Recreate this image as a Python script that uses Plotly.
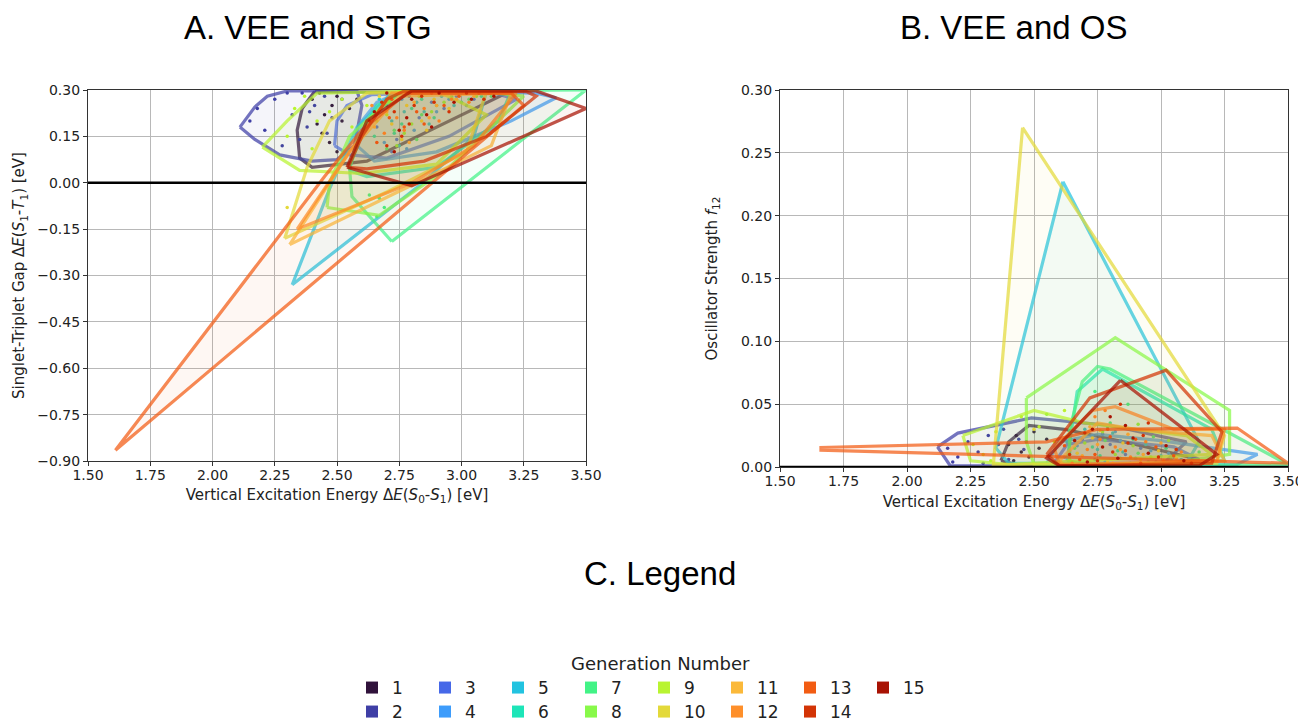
import plotly.graph_objects as go

# figure size (page body adds an 8px margin inside the 1306x724 window)
W, H = 1298, 716
OFF = 8


def fx(p):
    return (p - OFF) / W


def fy(p):
    return 1 - (p - OFF) / H


generations = list(range(1, 16))
gen_colors = ["#30123b", "#3f3fa6", "#4668e8", "#3d9cfb", "#22c3e0", "#1de5b8", "#42f386",
              "#88f94a", "#b9f431", "#e3d93a", "#fbb93a", "#fe8f2a", "#f25c13", "#d33406", "#a81203"]

# ---------------- Panel A: VEE vs STG (convex hulls per generation) ----------------
hullA_x = {
    1: [2.41, 2.36, 2.34, 2.35, 2.40, 2.62, 3.18, 2.41],
    2: [2.11, 2.17, 2.22, 2.30, 2.58, 2.60, 2.57, 2.50, 2.40, 2.27, 2.17, 2.11],
    3: [2.49, 2.50, 2.54, 2.64, 3.10, 3.22, 2.95, 2.70, 2.55, 2.49],
    4: [2.58, 2.60, 2.66, 2.76, 3.30, 3.38, 3.20, 2.90, 2.65, 2.58],
    5: [2.32, 2.47, 2.58, 2.72, 3.10, 3.05, 2.83, 2.32],
    6: [2.55, 2.58, 2.66, 2.78, 3.20, 3.15, 2.90, 2.62, 2.55],
    7: [2.72, 2.56, 2.55, 2.62, 2.76, 3.50, 2.72],
    8: [2.46, 2.67, 2.95, 3.25, 3.05, 2.75, 2.55, 2.47, 2.46],
    9: [2.20, 2.30, 2.42, 2.90, 3.10, 2.90, 2.60, 2.35, 2.20],
    10: [2.29, 2.38, 2.47, 2.62, 3.10, 3.02, 2.70, 2.29],
    11: [2.31, 2.55, 2.75, 3.20, 3.12, 2.82, 2.31],
    12: [2.34, 2.55, 2.72, 3.22, 3.05, 2.80, 2.34],
    13: [1.61, 2.45, 2.60, 2.78, 3.20, 3.25, 1.61],
    14: [2.545, 2.60, 2.70, 2.77, 3.26, 3.30, 3.10, 2.85, 2.62, 2.545],
    15: [2.54, 2.80, 3.50, 3.30, 2.80, 2.62, 2.54],
}
hullA_y = {
    1: [0.295, 0.24, 0.17, 0.08, 0.05, 0.07, 0.29, 0.295],
    2: [0.18, 0.245, 0.28, 0.297, 0.297, 0.25, 0.12, 0.075, 0.07, 0.09, 0.14, 0.18],
    3: [0.12, 0.20, 0.25, 0.285, 0.297, 0.27, 0.15, 0.08, 0.09, 0.12],
    4: [0.12, 0.20, 0.26, 0.295, 0.29, 0.275, 0.20, 0.10, 0.07, 0.12],
    5: [-0.33, -0.02, 0.18, 0.29, 0.295, 0.15, -0.01, -0.33],
    6: [0.04, 0.14, 0.25, 0.297, 0.297, 0.20, 0.05, 0.02, 0.04],
    7: [-0.19, -0.045, 0.05, 0.20, 0.297, 0.30, -0.19],
    8: [-0.08, -0.105, 0.05, 0.28, 0.297, 0.297, 0.15, 0.0, -0.08],
    9: [0.115, 0.20, 0.29, 0.297, 0.22, 0.06, 0.03, 0.04, 0.115],
    10: [-0.18, 0.05, 0.20, 0.29, 0.295, 0.10, -0.03, -0.18],
    11: [-0.20, 0.10, 0.28, 0.29, 0.12, 0.0, -0.20],
    12: [-0.15, 0.10, 0.29, 0.29, 0.12, 0.0, -0.15],
    13: [-0.865, 0.02, 0.17, 0.29, 0.29, 0.25, -0.865],
    14: [0.05, 0.15, 0.27, 0.297, 0.295, 0.28, 0.15, 0.07, 0.045, 0.05],
    15: [0.05, -0.01, 0.24, 0.297, 0.297, 0.20, 0.05],
}
ptsA_x = {
    1: [2.40, 2.43, 2.45, 2.48, 2.50, 2.52, 2.44, 2.47, 2.55, 2.42, 2.58, 2.50],
    2: [2.15, 2.18, 2.21, 2.25, 2.28, 2.32, 2.36, 2.38, 2.41, 2.45, 2.48, 2.52, 2.35, 2.30, 2.46, 2.39],
    3: [2.66, 2.70, 2.74, 2.79, 2.83, 2.88, 2.93, 2.98, 3.05, 2.72],
    4: [2.64, 2.69, 2.76, 2.81, 2.86, 2.90, 2.95, 3.02, 3.10, 2.78],
    5: [2.67, 2.72, 2.77, 2.82, 2.87, 2.92, 2.97, 3.04, 2.75, 2.85],
    6: [2.65, 2.71, 2.76, 2.80, 2.84, 2.89, 2.94, 3.00, 3.08, 2.73],
    7: [2.68, 2.73, 2.78, 2.84, 2.90, 2.96, 3.03, 2.82, 2.70, 3.12, 2.63, 2.67, 2.69, 2.66],
    8: [2.66, 2.71, 2.77, 2.83, 2.88, 2.93, 2.99, 3.06, 2.80, 2.74],
    9: [2.30, 2.33, 2.37, 2.42, 2.47, 2.52, 2.56, 2.40, 2.62, 2.70],
    10: [2.67, 2.72, 2.78, 2.84, 2.89, 2.95, 3.01, 2.76, 2.86, 2.30],
    11: [2.65, 2.70, 2.75, 2.81, 2.87, 2.92, 2.98, 3.05, 2.79, 2.90],
    12: [2.64, 2.69, 2.74, 2.80, 2.85, 2.91, 2.96, 3.03, 3.11, 2.77],
    13: [2.66, 2.72, 2.77, 2.82, 2.88, 2.93, 2.99, 3.07, 2.71, 2.85],
    14: [2.63, 2.68, 2.73, 2.79, 2.84, 2.89, 2.95, 3.02, 3.09, 2.76, 2.81, 2.70],
    15: [2.65, 2.70, 2.75, 2.80, 2.86, 2.91, 2.97, 3.04, 3.13, 2.78, 2.73, 2.88],
}
ptsA_y = {
    1: [0.27, 0.29, 0.22, 0.25, 0.28, 0.20, 0.16, 0.13, 0.24, 0.19, 0.27, 0.10],
    2: [0.20, 0.24, 0.17, 0.27, 0.12, 0.22, 0.29, 0.18, 0.25, 0.28, 0.21, 0.27, 0.14, 0.29, 0.16, 0.23],
    3: [0.18, 0.25, 0.14, 0.28, 0.21, 0.26, 0.24, 0.28, 0.27, 0.10],
    4: [0.22, 0.13, 0.27, 0.17, 0.29, 0.23, 0.27, 0.25, 0.29, 0.11],
    5: [0.27, 0.20, 0.23, 0.26, 0.19, 0.28, 0.25, 0.29, 0.12, 0.23],
    6: [0.15, 0.28, 0.19, 0.24, 0.27, 0.21, 0.29, 0.26, 0.28, 0.16],
    7: [0.24, 0.17, 0.29, 0.22, 0.25, 0.28, 0.27, 0.14, 0.11, 0.28, -0.04, -0.05, -0.08, -0.11],
    8: [0.20, 0.26, 0.16, 0.28, 0.23, 0.26, 0.29, 0.28, 0.19, 0.12],
    9: [0.15, 0.24, 0.28, 0.20, 0.23, 0.27, 0.18, 0.11, 0.25, 0.22],
    10: [0.28, 0.19, 0.25, 0.20, 0.27, 0.24, 0.29, 0.14, 0.17, -0.08],
    11: [0.18, 0.23, 0.29, 0.26, 0.21, 0.29, 0.27, 0.28, 0.13, 0.25],
    12: [0.25, 0.16, 0.21, 0.29, 0.24, 0.20, 0.27, 0.26, 0.29, 0.17],
    13: [0.13, 0.27, 0.18, 0.23, 0.29, 0.25, 0.28, 0.29, 0.21, 0.19],
    14: [0.20, 0.26, 0.23, 0.19, 0.28, 0.26, 0.23, 0.29, 0.27, 0.15, 0.25, 0.12],
    15: [0.23, 0.29, 0.17, 0.27, 0.22, 0.29, 0.26, 0.27, 0.28, 0.21, 0.10, 0.18],
}

# ---------------- Panel B: VEE vs OS ----------------
hullB_x = {
    1: [2.37, 2.40, 2.48, 2.62, 2.90, 3.15, 3.00, 2.45, 2.37],
    2: [2.12, 2.20, 2.49, 2.80, 3.10, 3.00, 2.17, 2.12],
    3: [2.58, 2.63, 2.75, 3.05, 3.15, 3.05, 2.60, 2.58],
    4: [2.55, 2.60, 2.75, 3.00, 3.38, 3.30, 2.60, 2.55],
    5: [2.614, 3.15, 3.10, 2.40, 2.35, 2.614],
    6: [2.63, 2.67, 2.77, 3.20, 3.25, 2.70, 2.63],
    7: [2.64, 2.64, 2.69, 2.75, 2.80, 3.50, 2.70, 2.64],
    8: [2.47, 2.82, 3.27, 3.27, 3.00, 2.50, 2.47, 2.47],
    9: [2.22, 2.50, 2.70, 3.10, 3.20, 2.40, 2.25, 2.22],
    10: [2.455, 3.25, 3.22, 2.34, 2.455],
    11: [2.60, 2.75, 2.90, 3.20, 3.25, 2.62, 2.60],
    12: [2.58, 2.73, 2.82, 3.05, 3.25, 3.22, 2.60, 2.58],
    13: [1.655, 2.55, 2.75, 3.30, 3.50, 1.655],
    14: [2.55, 2.72, 3.02, 3.24, 3.20, 2.60, 2.55],
    15: [2.84, 3.22, 3.15, 2.60, 2.55, 2.84],
}
hullB_y = {
    1: [0.005, 0.02, 0.033, 0.03, 0.018, 0.006, 0.001, 0.001, 0.005],
    2: [0.016, 0.027, 0.039, 0.033, 0.02, 0.001, 0.001, 0.016],
    3: [0.003, 0.018, 0.022, 0.016, 0.006, 0.001, 0.001, 0.003],
    4: [0.003, 0.02, 0.026, 0.021, 0.01, 0.002, 0.001, 0.003],
    5: [0.227, 0.02, 0.003, 0.003, 0.015, 0.227],
    6: [0.005, 0.06, 0.078, 0.03, 0.005, 0.001, 0.005],
    7: [0.005, 0.03, 0.068, 0.08, 0.078, 0.002, 0.001, 0.005],
    8: [0.055, 0.103, 0.045, 0.01, 0.002, 0.002, 0.02, 0.055],
    9: [0.025, 0.045, 0.035, 0.025, 0.01, 0.002, 0.005, 0.025],
    10: [0.270, 0.025, 0.003, 0.002, 0.270],
    11: [0.005, 0.035, 0.03, 0.025, 0.005, 0.001, 0.005],
    12: [0.015, 0.045, 0.048, 0.03, 0.03, 0.005, 0.002, 0.015],
    13: [0.0155, 0.02, 0.03, 0.031, 0.003, 0.0135],
    14: [0.01, 0.055, 0.077, 0.028, 0.003, 0.001, 0.01],
    15: [0.069, 0.01, 0.001, 0.001, 0.007, 0.069],
}
ptsB_x = {
    1: [2.38, 2.40, 2.43, 2.45, 2.47, 2.50, 2.42, 2.52, 2.55, 2.48],
    2: [2.16, 2.20, 2.24, 2.28, 2.32, 2.36, 2.40, 2.44, 2.18, 2.30, 2.46, 2.38],
    3: [2.64, 2.69, 2.74, 2.80, 2.86, 2.92, 2.98, 3.05, 2.77, 2.71],
    4: [2.62, 2.67, 2.73, 2.78, 2.84, 2.90, 2.96, 3.03, 3.10, 2.82],
    5: [2.63, 2.68, 2.75, 2.81, 2.88, 2.94, 3.00, 2.70, 2.85, 3.08],
    6: [2.65, 2.70, 2.76, 2.83, 2.89, 2.95, 3.02, 2.73, 2.79, 3.12],
    7: [2.66, 2.72, 2.78, 2.84, 2.91, 2.97, 3.04, 2.80, 2.87, 3.15, 2.74],
    8: [2.64, 2.70, 2.77, 2.82, 2.89, 2.96, 3.03, 2.55, 2.66, 2.91, 3.10],
    9: [2.26, 2.30, 2.35, 2.45, 2.52, 2.58, 2.33, 2.62],
    10: [2.67, 2.73, 2.79, 2.85, 2.92, 2.99, 3.06, 2.76, 2.50],
    11: [2.63, 2.69, 2.75, 2.81, 2.87, 2.93, 3.00, 3.07, 2.72, 2.84],
    12: [2.65, 2.71, 2.76, 2.82, 2.88, 2.94, 3.01, 3.08, 2.74, 2.78],
    13: [2.62, 2.68, 2.74, 2.80, 2.86, 2.92, 2.98, 3.05, 2.79, 2.90],
    14: [2.64, 2.70, 2.75, 2.81, 2.87, 2.93, 2.99, 3.06, 3.12, 2.84, 2.95],
    15: [2.66, 2.71, 2.77, 2.83, 2.89, 2.95, 3.02, 3.09, 2.73, 2.86, 2.80],
}
ptsB_y = {
    1: [0.010, 0.018, 0.025, 0.012, 0.020, 0.028, 0.005, 0.015, 0.022, 0.008],
    2: [0.015, 0.008, 0.020, 0.012, 0.025, 0.018, 0.006, 0.022, 0.004, 0.003, 0.014, 0.030],
    3: [0.012, 0.022, 0.006, 0.018, 0.010, 0.015, 0.004, 0.008, 0.026, 0.003],
    4: [0.008, 0.017, 0.025, 0.004, 0.021, 0.007, 0.013, 0.011, 0.005, 0.028],
    5: [0.020, 0.005, 0.014, 0.027, 0.003, 0.018, 0.009, 0.030, 0.012, 0.006],
    6: [0.004, 0.026, 0.009, 0.013, 0.022, 0.004, 0.015, 0.016, 0.032, 0.004],
    7: [0.015, 0.003, 0.021, 0.007, 0.011, 0.024, 0.006, 0.035, 0.050, 0.012, 0.060],
    8: [0.006, 0.019, 0.028, 0.010, 0.017, 0.008, 0.021, 0.042, 0.038, 0.034, 0.028],
    9: [0.018, 0.010, 0.028, 0.040, 0.032, 0.020, 0.005, 0.045],
    10: [0.011, 0.023, 0.004, 0.019, 0.006, 0.013, 0.007, 0.029, 0.030],
    11: [0.024, 0.009, 0.018, 0.003, 0.026, 0.010, 0.019, 0.004, 0.032, 0.014],
    12: [0.003, 0.014, 0.022, 0.016, 0.008, 0.020, 0.005, 0.012, 0.040, 0.045],
    13: [0.017, 0.006, 0.010, 0.024, 0.013, 0.003, 0.016, 0.009, 0.030, 0.022],
    14: [0.010, 0.027, 0.005, 0.012, 0.019, 0.025, 0.008, 0.014, 0.003, 0.050, 0.035],
    15: [0.021, 0.004, 0.016, 0.007, 0.023, 0.011, 0.017, 0.005, 0.030, 0.033, 0.040],
}

xticksA = [1.50, 1.75, 2.00, 2.25, 2.50, 2.75, 3.00, 3.25, 3.50]
yticksA = [-0.90, -0.75, -0.60, -0.45, -0.30, -0.15, 0.00, 0.15, 0.30]
yticksB = [0.00, 0.05, 0.10, 0.15, 0.20, 0.25, 0.30]


def rgba(hexc, a):
    h = hexc.lstrip("#")
    r, g, b = int(h[0:2], 16), int(h[2:4], 16), int(h[4:6], 16)
    return f"rgba({r},{g},{b},{a})"


fig = go.Figure()

for g, c in zip(generations, gen_colors):
    for (hx, hy, px, py, xa, ya) in [
        (hullA_x, hullA_y, ptsA_x, ptsA_y, "x", "y"),
        (hullB_x, hullB_y, ptsB_x, ptsB_y, "x2", "y2"),
    ]:
        fig.add_trace(go.Scatter(
            x=px[g], y=py[g], mode="markers", xaxis=xa, yaxis=ya,
            marker=dict(size=3.5, color=c), showlegend=False, hoverinfo="skip"))
        fig.add_trace(go.Scatter(
            x=hx[g], y=hy[g], mode="lines", fill="toself", xaxis=xa, yaxis=ya,
            line=dict(color=rgba(c, 0.72), width=3.2),
            fillcolor=rgba(c, 0.05), showlegend=False, hoverinfo="skip"))

# legend entries (odd generations first row, even second row)
for g, c in zip(generations, gen_colors):
    fig.add_trace(go.Scatter(
        x=[None], y=[None], mode="markers", name=str(g),
        marker=dict(symbol="square", size=12, color=c),
        legend="legend" if g % 2 == 1 else "legend2", showlegend=True))

axis_common = dict(
    showgrid=True, gridcolor="#b8b8b8", gridwidth=1,
    showline=True, mirror=True, linecolor="#333333", linewidth=1.2,
    ticks="outside", ticklen=4, tickcolor="#333333",
    tickfont=dict(family="DejaVu Sans", size=14, color="#222222"),
    zeroline=False, tickformat=".2f", automargin=False,
)
title_font = dict(family="DejaVu Sans", size=15, color="#222222")

xlabel = "Vertical Excitation Energy Δ<i>E</i>(<i>S</i><sub>0</sub>-<i>S</i><sub>1</sub>) [eV]"
legend_font = dict(family="DejaVu Sans", size=17, color="#222")

fig.update_layout(
    width=W, height=H, margin=dict(l=0, r=0, t=0, b=0, autoexpand=False),
    paper_bgcolor="white", plot_bgcolor="white",
    xaxis=dict(domain=[fx(88), fx(586)], range=[1.5, 3.5], tickvals=xticksA, anchor="y",
               ticklabelstandoff=-3,
               title=dict(text=xlabel, font=title_font, standoff=7), **axis_common),
    yaxis=dict(domain=[fy(461), fy(90)], range=[-0.9, 0.3], tickvals=yticksA, anchor="x",
               title=dict(text="Singlet-Triplet Gap Δ<i>E</i>(<i>S</i><sub>1</sub>-<i>T</i><sub>1</sub>) [eV]",
                          font=title_font, standoff=8), **axis_common),
    xaxis2=dict(domain=[fx(780), fx(1288)], range=[1.5, 3.5], tickvals=xticksA, anchor="y2",
                ticklabelstandoff=-3,
                title=dict(text=xlabel, font=title_font, standoff=8), **axis_common),
    yaxis2=dict(domain=[fy(467), fy(90)], range=[0.0, 0.3], tickvals=yticksB, anchor="x2",
                title=dict(text="Oscillator Strength <i>f</i><sub>12</sub>", font=title_font, standoff=19),
                **axis_common),
    legend=dict(orientation="h", x=fx(352), y=fy(688), xanchor="left", yanchor="middle",
                entrywidth=28, entrywidthmode="pixels", font=legend_font,
                bgcolor="rgba(0,0,0,0)", traceorder="normal"),
    legend2=dict(orientation="h", x=fx(352), y=fy(712), xanchor="left", yanchor="middle",
                 entrywidth=28, entrywidthmode="pixels", font=legend_font,
                 bgcolor="rgba(0,0,0,0)", traceorder="normal"),
    shapes=[
        dict(type="line", xref="x domain", yref="y", x0=0, x1=1, y0=0, y1=0,
             line=dict(color="black", width=2.5), layer="above"),
        dict(type="line", xref="x2 domain", yref="y2", x0=0, x1=1, y0=0, y1=0,
             line=dict(color="black", width=2.5), layer="above"),
    ],
    annotations=[
        dict(text="A. VEE and STG", x=fx(308), y=fy(27), xref="paper", yref="paper",
             showarrow=False, xanchor="center", yanchor="middle",
             font=dict(family="Liberation Sans", size=33, color="black")),
        dict(text="B. VEE and OS", x=fx(1013), y=fy(27), xref="paper", yref="paper",
             showarrow=False, xanchor="center", yanchor="middle",
             font=dict(family="Liberation Sans", size=33, color="black")),
        dict(text="C. Legend", x=fx(660), y=fy(573), xref="paper", yref="paper",
             showarrow=False, xanchor="center", yanchor="middle",
             font=dict(family="Liberation Sans", size=33, color="black")),
        dict(text="Generation Number", x=fx(660), y=fy(663), xref="paper", yref="paper",
             showarrow=False, xanchor="center", yanchor="middle",
             font=dict(family="DejaVu Sans", size=18, color="#222")),
    ],
)

fig.write_html("out.html")
